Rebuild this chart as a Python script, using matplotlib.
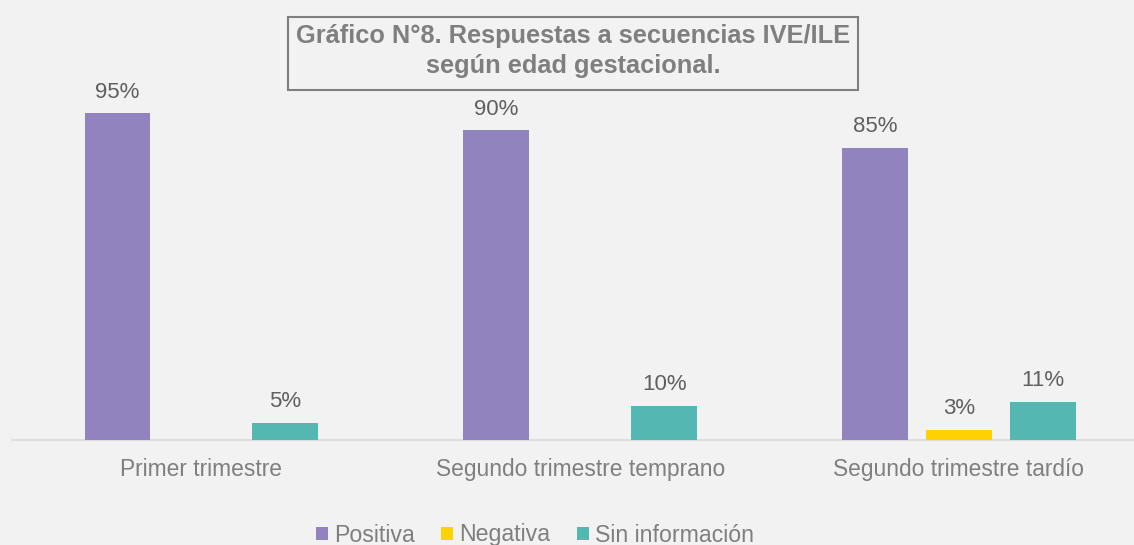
import numpy as np
import matplotlib.pyplot as plt
from matplotlib.patches import Rectangle

categorias = ['Primer trimestre', 'Segundo trimestre temprano', 'Segundo trimestre tardío']
positiva = [95, 90, 85]
negativa = [0, 0, 3]
sin_info = [5, 10, 11]
series = ['Positiva', 'Negativa', 'Sin información']
colores = ['#9183BE', '#FFD200', '#52B8B0']

plt.rcParams['font.family'] = ['Liberation Sans', 'DejaVu Sans']
gris = '#7F7F7F'
W, H = 1134, 545

fig = plt.figure(figsize=(11.34, 5.45), dpi=100, facecolor='#F2F2F2')
ax = fig.add_axes([12 / W, 1 - 440 / H, 1 - 12 / W, 344 / H])
ax.set_facecolor('#F2F2F2')

x = np.arange(len(categorias))
ancho = 0.174
paso = 0.2216
for i, (vals, nombre, col) in enumerate(zip([positiva, negativa, sin_info], series, colores)):
    pos = x + (i - 1) * paso
    ax.bar(pos, vals, ancho, color=col, label=nombre, zorder=3)
    for p, v in zip(pos, vals):
        if v > 0:
            ax.text(p, v + 3.1, f'{v}%', ha='center', va='bottom', fontsize=16, color='#5F5F5F')

ax.set_xlim(-0.5, 2.462)
ax.set_ylim(0, 100)
for s in ['top', 'right', 'left']:
    ax.spines[s].set_visible(False)
ax.spines['bottom'].set_color('#D9D9D9')
ax.spines['bottom'].set_linewidth(1.2)
ax.set_yticks([])
ax.set_xticks(x)
ax.set_xticklabels(categorias, fontsize=16.4, color=gris)
ax.tick_params(axis='x', length=0, pad=13)

# caja del titulo
fig.patches.append(Rectangle((288 / W, 1 - 90 / H), 570 / W, 73 / H, transform=fig.transFigure,
                             facecolor='#F2F2F2', edgecolor=gris, linewidth=1.5, zorder=5))
fig.text(573 / W, 1 - 51 / H, 'Gráfico N°8. Respuestas a secuencias IVE/ILE\nsegún edad gestacional.',
         ha='center', va='center', fontsize=18.3, fontweight='bold', color=gris, linespacing=1.3,
         zorder=6)

fig.legend(loc='center', bbox_to_anchor=(535 / W, 1 - 535 / H), ncol=3, frameon=False,
           fontsize=16.7, labelcolor=gris, handlelength=0.52, handleheight=0.52, handletextpad=0.26,
           columnspacing=1.16)

fig.savefig('out.png', dpi=100, facecolor=fig.get_facecolor())
